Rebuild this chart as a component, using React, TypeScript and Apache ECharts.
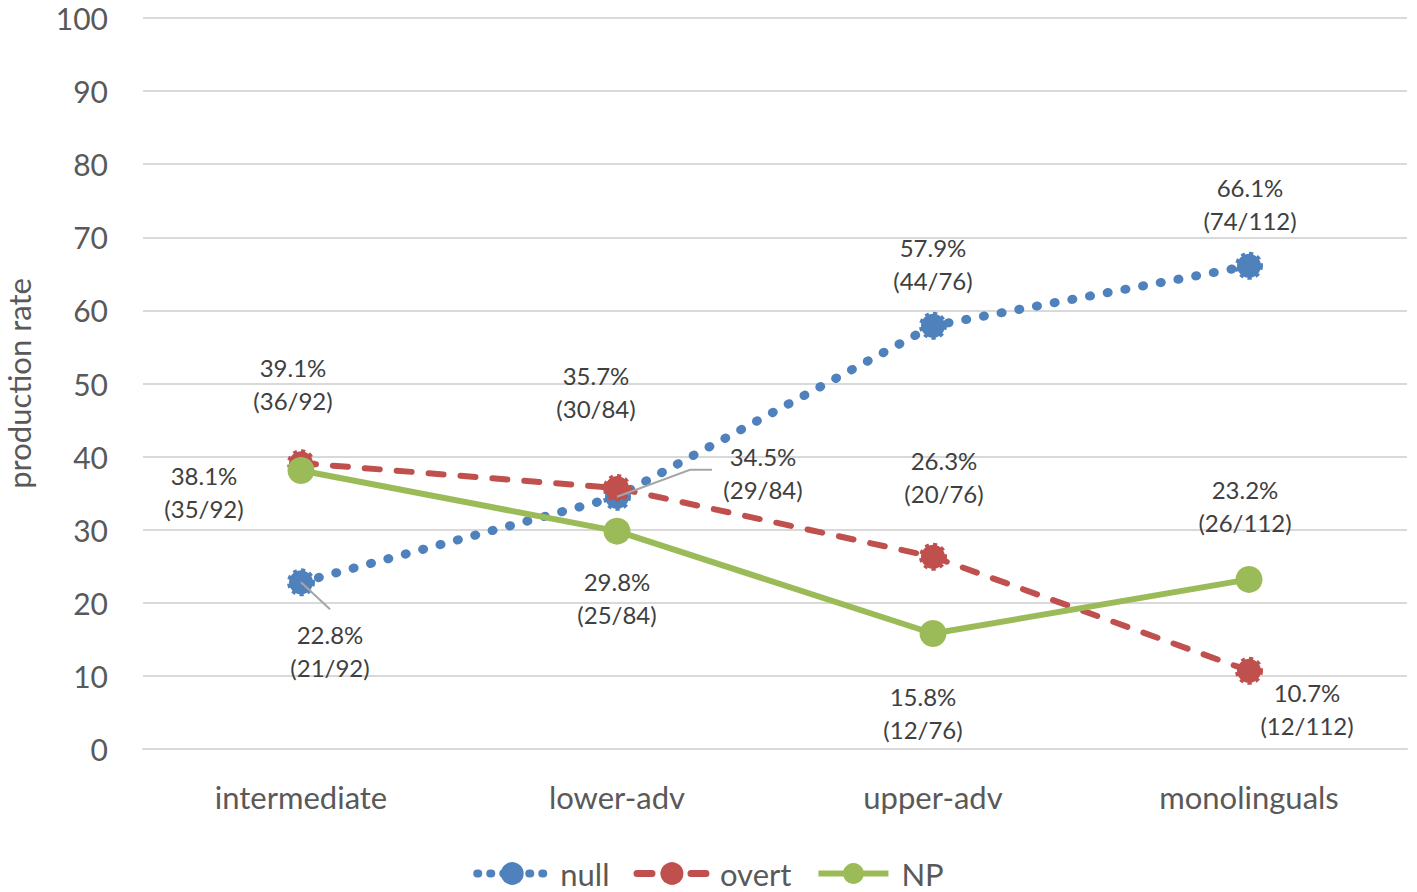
import React, { useEffect, useRef } from "react";
import * as echarts from "echarts";

const categories = ["intermediate", "lower-adv", "upper-adv", "monolinguals"];
const yTicks = [0, 10, 20, 30, 40, 50, 60, 70, 80, 90, 100];
const denominators = [92, 84, 76, 112];

const nullValues = [22.8, 34.5, 57.9, 66.1];
const nullCounts = [21, 29, 44, 74];
const overtValues = [39.1, 35.7, 26.3, 10.7];
const overtCounts = [36, 30, 20, 12];
const npValues = [38.1, 29.8, 15.8, 23.2];
const npCounts = [35, 25, 12, 26];

// label offsets (px) relative to each point
const nullOffsets = [[29, 69], [146, -24], [0, -62], [1, -62]];
const overtOffsets = [[-8, -79], [-21, -96], [11, -80], [58, 38]];
const npOffsets = [[-97, 22], [0, 67], [-10, 79], [-4, -73]];

const BLUE = "#4F81BD";
const RED = "#C0504D";
const GREEN = "#9BBB59";
const FONT = "Lato";

function makeData(values: number[], counts: number[], offsets: number[][]) {
  return values.map((v, i) => ({
    value: v,
    label: {
      offset: offsets[i],
      formatter: `${v.toFixed(1)}%\n(${counts[i]}/${denominators[i]})`,
    },
  }));
}

const labelBase = {
  show: true,
  position: "inside",
  color: "#404040",
  fontFamily: FONT,
  fontSize: 24,
  lineHeight: 33,
  align: "center",
  verticalAlign: "middle",
};

const nullLine = { color: BLUE, width: 9, type: [1, 17], cap: "round" };
const overtLine = { color: RED, width: 6, type: [15, 17], cap: "round" };
const npLine = { color: GREEN, width: 6 };

export default function App() {
  const ref = useRef<HTMLDivElement>(null);
  useEffect(() => {
    if (!ref.current) return;
    const chart = echarts.init(ref.current, null, { renderer: "svg" });
    chart.setOption({
      animation: false,
      backgroundColor: "#ffffff",
      grid: { left: 143, right: 10, top: 18, bottom: 143, containLabel: false, outerBoundsMode: "none" },
      legend: {
        top: 853,
        left: "center",
        itemWidth: 70,
        itemHeight: 26,
        itemGap: 24,
        textStyle: { fontFamily: FONT, fontSize: 31, color: "#595959", padding: [0, 0, 0, 8] },
        data: [
          { name: "null", lineStyle: { width: 8, type: [1, 12], cap: "round" } },
          { name: "overt", lineStyle: { width: 7, type: [15, 12], cap: "round" } },
          { name: "NP", lineStyle: { width: 6 } },
        ],
      },
      xAxis: {
        type: "category",
        data: categories,
        boundaryGap: true,
        axisLine: { show: true, lineStyle: { color: "#D9D9D9", width: 2 } },
        axisTick: { show: false },
        axisLabel: { fontFamily: FONT, fontSize: 31, color: "#595959", margin: 32 },
      },
      yAxis: {
        type: "value",
        min: 0,
        max: 100,
        interval: 10,
        name: "production rate",
        nameLocation: "middle",
        nameGap: 109,
        nameRotate: 90,
        nameTextStyle: { fontFamily: FONT, fontSize: 31, color: "#595959" },
        axisLine: { show: false },
        axisTick: { show: false },
        axisLabel: {
          fontFamily: FONT,
          fontSize: 30,
          color: "#595959",
          margin: 35,
          formatter: (v: number) => (yTicks.includes(v) ? String(v) : ""),
        },
        splitLine: { show: true, lineStyle: { color: "#D9D9D9", width: 2 } },
      },
      series: [
        {
          name: "null",
          type: "line",
          data: makeData(nullValues, nullCounts, nullOffsets),
          symbol: "circle",
          symbolSize: 24,
          itemStyle: { color: BLUE, borderColor: BLUE, borderWidth: 4, borderType: "dotted" },
          lineStyle: nullLine,
          label: labelBase,
          z: 2,
        },
        {
          name: "overt",
          type: "line",
          data: makeData(overtValues, overtCounts, overtOffsets),
          symbol: "circle",
          symbolSize: 24,
          itemStyle: { color: RED, borderColor: RED, borderWidth: 4, borderType: "dotted" },
          lineStyle: overtLine,
          label: labelBase,
          z: 3,
        },
        {
          name: "NP",
          type: "line",
          data: makeData(npValues, npCounts, npOffsets),
          symbol: "circle",
          symbolSize: 27,
          itemStyle: { color: GREEN },
          lineStyle: npLine,
          label: labelBase,
          z: 4,
        },
      ],
    });

    // leader lines for two null labels
    const p0 = chart.convertToPixel({ seriesIndex: 0 }, [0, nullValues[0]]) as number[];
    const p1 = chart.convertToPixel({ seriesIndex: 0 }, [1, nullValues[1]]) as number[];
    chart.setOption({
      graphic: [
        {
          type: "line",
          z: 10,
          shape: { x1: p0[0], y1: p0[1], x2: p0[0] + 29, y2: p0[1] + 27 },
          style: { stroke: "#A6A6A6", lineWidth: 2 },
        },
        {
          type: "polyline",
          z: 10,
          shape: { points: [[p1[0], p1[1]], [p1[0] + 73, p1[1] - 27], [p1[0] + 95, p1[1] - 27]] },
          style: { stroke: "#A6A6A6", lineWidth: 2, fill: "none" },
        },
      ],
    });

    return () => chart.dispose();
  }, []);
  return (
    <div
      ref={ref}
      style={{ position: "absolute", left: 0, top: 0, width: 1417, height: 892 }}
    />
  );
}
